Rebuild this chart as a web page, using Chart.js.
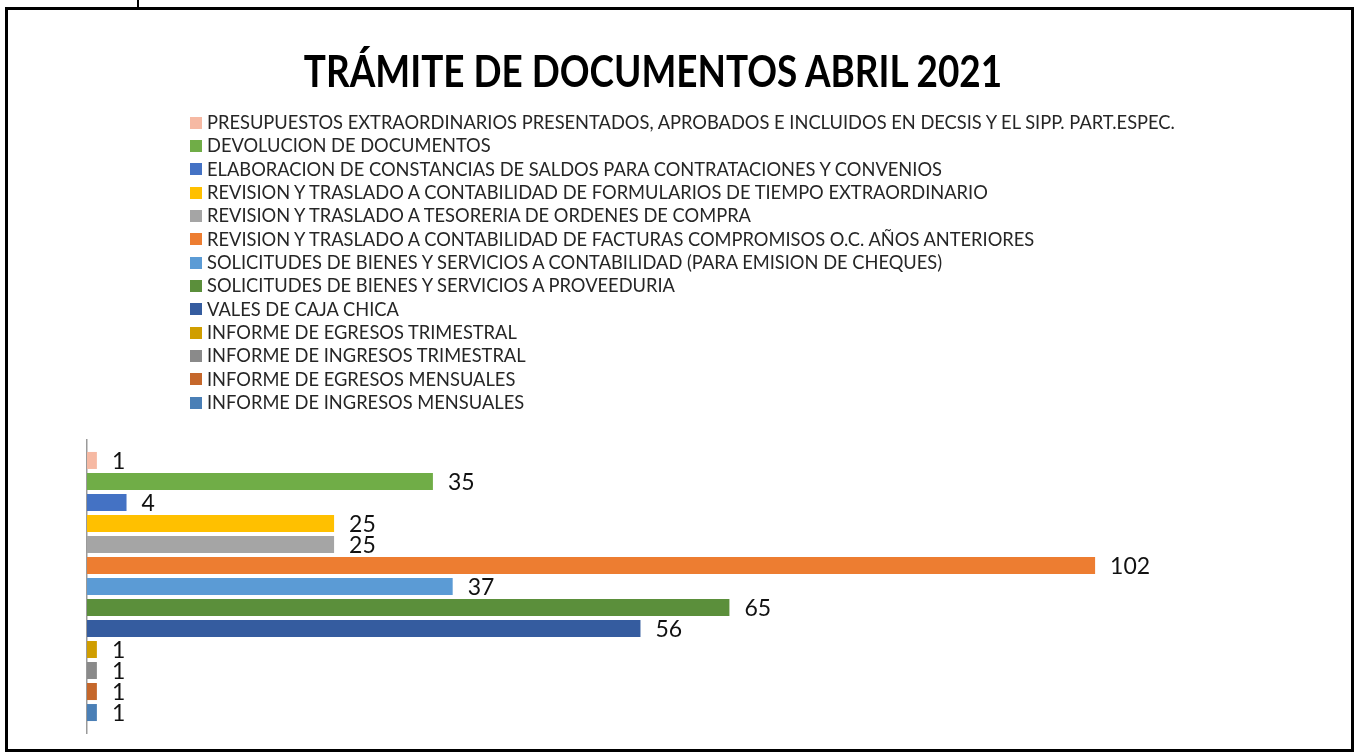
<!DOCTYPE html>
<html>
<head>
<meta charset="utf-8">
<title>Trámite de documentos abril 2021</title>
<script src="https://cdn.jsdelivr.net/npm/chart.js@4.4.0/dist/chart.umd.min.js"></script>
<style>
  html, body { margin: 0; padding: 0; background: #fff; width: 1359px; height: 754px; overflow: hidden; }
  #frame { position: absolute; left: 5px; top: 7px; width: 1343px; height: 739px; border: 3px solid #000; }
  #topline { position: absolute; left: 137px; top: 0; width: 2px; height: 8px; background: #000; }
  #chart { position: absolute; left: 0; top: 0; }
  #title { position: absolute; left: 653px; top: 49px; transform: translateX(-50%) scaleX(0.858); white-space: nowrap;
           font-family: Lato, sans-serif; font-weight: bold; font-size: 43px; line-height: 43px; color: #000; }
  #legend { position: absolute; left: 190px; top: 111px; margin: 0; padding: 0; list-style: none;
            font-family: Lato, sans-serif; font-size: 18.3px; line-height: 23.33px; color: #262626; }
  #legend li { display: flex; align-items: center; white-space: nowrap; height: 23.33px; }
  #legend span.box { display: inline-block; width: 12px; height: 12px; margin-right: 5px; }
</style>
</head>
<body>
<div id="topline"></div>
<div id="frame"></div>
<canvas id="chart" width="1359" height="754"></canvas>
<div id="title">TRÁMITE DE DOCUMENTOS ABRIL 2021</div>
<ul id="legend"></ul>
<script>
var series = [
    "PRESUPUESTOS EXTRAORDINARIOS PRESENTADOS, APROBADOS E INCLUIDOS EN DECSIS Y EL SIPP. PART.ESPEC.",
    "DEVOLUCION DE DOCUMENTOS",
    "ELABORACION DE CONSTANCIAS DE SALDOS PARA CONTRATACIONES Y CONVENIOS",
    "REVISION Y TRASLADO A CONTABILIDAD DE FORMULARIOS DE TIEMPO EXTRAORDINARIO",
    "REVISION Y TRASLADO A TESORERIA DE ORDENES DE COMPRA",
    "REVISION Y TRASLADO A CONTABILIDAD DE FACTURAS COMPROMISOS O.C. AÑOS ANTERIORES",
    "SOLICITUDES DE BIENES Y SERVICIOS A CONTABILIDAD (PARA EMISION DE CHEQUES)",
    "SOLICITUDES DE BIENES Y SERVICIOS A PROVEEDURIA",
    "VALES DE CAJA CHICA",
    "INFORME DE EGRESOS TRIMESTRAL",
    "INFORME DE INGRESOS TRIMESTRAL",
    "INFORME DE EGRESOS MENSUALES",
    "INFORME DE INGRESOS MENSUALES"
];
var values = [1, 35, 4, 25, 25, 102, 37, 65, 56, 1, 1, 1, 1];
var colors = ["#F6B9A3", "#70AD47", "#4472C4", "#FFC000", "#A5A5A5", "#ED7D31", "#5B9BD5",
              "#5B8F3B", "#355C9F", "#D09E00", "#8A8A8A", "#C5672B", "#4A7FB6"];
var categories = ["ABRIL 2021"];

var datasets = [];
for (var i = 0; i < series.length; i++) {
    datasets.push({
        label: series[i],
        data: [values[i]],
        backgroundColor: colors[i],
        borderWidth: 0,
        categoryPercentage: 0.932,
        barPercentage: 0.81
    });
}

// numbers written after the end of every bar
var valueLabels = {
    id: 'valueLabels',
    afterDatasetsDraw: function (chart) {
        var ctx = chart.ctx;
        ctx.save();
        ctx.font = '23px Lato, sans-serif';
        ctx.fillStyle = '#111';
        ctx.textBaseline = 'middle';
        ctx.textAlign = 'left';
        chart.data.datasets.forEach(function (ds, i) {
            var meta = chart.getDatasetMeta(i);
            meta.data.forEach(function (bar, j) {
                ctx.fillText(ds.data[j], bar.x + 15, bar.y + 1.5);
            });
        });
        ctx.restore();
    }
};

var chart = new Chart(document.getElementById('chart'), {
    type: 'bar',
    data: { labels: categories, datasets: datasets },
    options: {
        indexAxis: 'y',
        responsive: false,
        animation: false,
        layout: { padding: { left: 87, top: 440, right: 86, bottom: 21 } },
        plugins: {
            legend: { display: false },
            title: { display: false },
            tooltip: { enabled: false }
        },
        scales: {
            x: { display: false, min: 0, max: 120 },
            y: {
                display: true,
                ticks: { display: false },
                grid: { display: false, drawTicks: false },
                border: { display: true, color: '#9a9a9a', width: 1.5 }
            }
        }
    },
    plugins: [valueLabels]
});

var legend = document.getElementById('legend');
chart.data.datasets.forEach(function (ds) {
    var li = document.createElement('li');
    var box = document.createElement('span');
    box.className = 'box';
    box.style.background = ds.backgroundColor;
    li.appendChild(box);
    li.appendChild(document.createTextNode(ds.label));
    legend.appendChild(li);
});
</script>
</body>
</html>
